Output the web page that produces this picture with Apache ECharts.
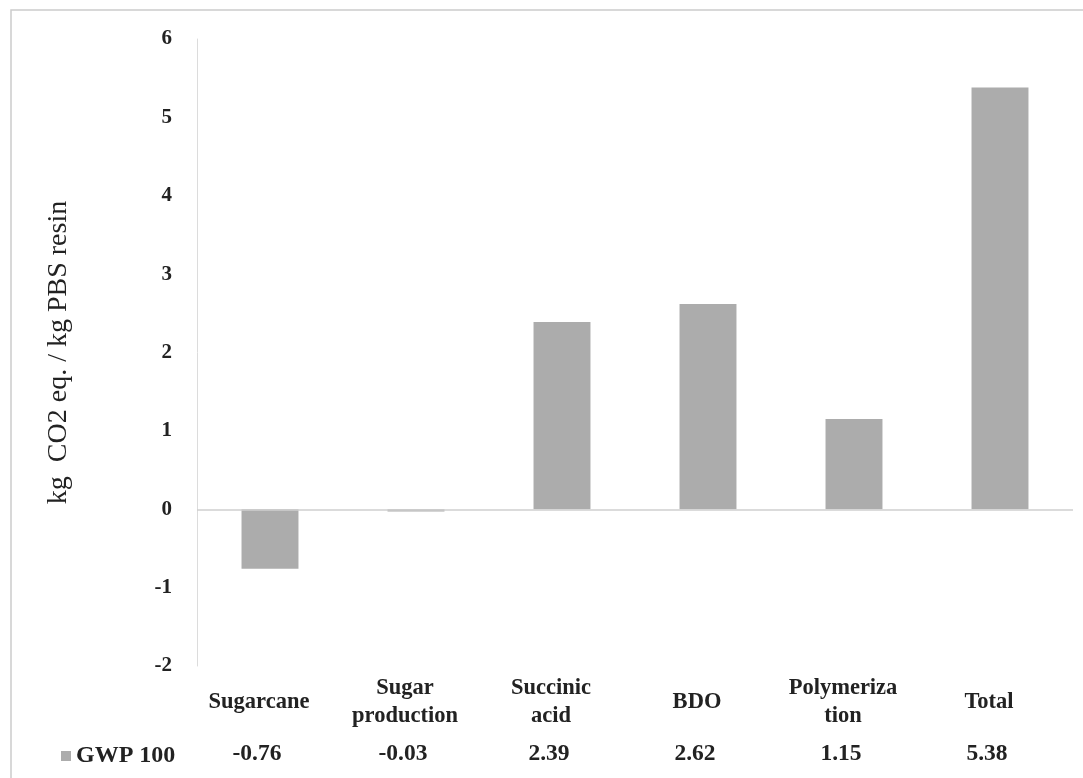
<!DOCTYPE html>
<html>
<head>
<meta charset="utf-8">
<script src="https://cdn.jsdelivr.net/npm/echarts@6/dist/echarts.min.js"></script>
<style>
  html, body { margin: 0; padding: 0; background: #ffffff; }
  #chart { width: 1083px; height: 778px; }
</style>
</head>
<body>
<div id="chart"></div>
<script>
var categories = ['Sugarcane', 'Sugar\nproduction', 'Succinic\nacid', 'BDO', 'Polymeriza\ntion', 'Total'];
var gwpValues = [-0.76, -0.03, 2.39, 2.62, 1.15, 5.38];
var seriesName = 'GWP 100';
var yAxisTitle = 'kg  CO2 eq. / kg PBS resin';
var yMin = -2, yMax = 6, yStep = 1;

var serif = '"Liberation Serif", "DejaVu Serif", serif';
var chart = echarts.init(document.getElementById('chart'), null, { renderer: 'canvas' });

chart.setOption({
  backgroundColor: '#ffffff',
  animation: false,
  graphic: [{
    type: 'rect',
    shape: { x: 11, y: 10, width: 1200, height: 900 },
    style: { fill: 'none', stroke: '#cccccc', lineWidth: 1.5 },
    silent: true
  }],
  legend: {
    data: [seriesName],
    left: 56,
    top: 739,
    icon: 'rect',
    itemWidth: 10,
    itemHeight: 10,
    itemGap: 6,
    textStyle: { fontFamily: serif, fontSize: 24, fontWeight: 'bold', color: '#222' }
  },
  grid: { left: 197, right: 10, top: 39, bottom: 112, containLabel: false },
  xAxis: [{
    type: 'category',
    data: categories,
    position: 'bottom',
    axisLine: { show: false },
    axisTick: { show: false },
    axisLabel: {
      interval: 0,
      margin: 36,
      verticalAlign: 'middle',
      lineHeight: 28,
      padding: [0, 22, 0, 0],
      fontFamily: serif,
      fontSize: 22.5,
      fontWeight: 'bold',
      color: '#222'
    }
  }, {
    type: 'category',
    data: gwpValues.map(function (v) { return v.toFixed(2); }),
    position: 'bottom',
    axisLine: { show: false },
    axisTick: { show: false },
    axisLabel: {
      interval: 0,
      margin: 88,
      verticalAlign: 'middle',
      padding: [0, 26, 0, 0],
      fontFamily: serif,
      fontSize: 23.5,
      fontWeight: 'bold',
      color: '#222'
    }
  }],
  yAxis: {
    type: 'value',
    min: yMin,
    max: yMax,
    interval: yStep,
    name: yAxisTitle,
    nameLocation: 'middle',
    nameGap: 124,
    nameRotate: 90,
    nameTextStyle: { fontFamily: serif, fontSize: 28, color: '#222' },
    axisLine: { show: true, lineStyle: { color: '#dcdcdc', width: 1 } },
    axisTick: { show: false },
    splitLine: { show: false },
    axisLabel: {
      margin: 25,
      padding: [4, 0, 0, 0],
      fontFamily: serif,
      fontSize: 21,
      fontWeight: 'bold',
      color: '#222'
    }
  },
  series: [{
    name: seriesName,
    type: 'bar',
    xAxisIndex: 0,
    data: gwpValues,
    barWidth: '39%',
    itemStyle: { color: '#acacac' },
    markLine: {
      silent: true,
      symbol: 'none',
      label: { show: false },
      lineStyle: { color: '#cfcfcf', type: 'solid', width: 1.5 },
      data: [{ yAxis: 0 }]
    }
  }]
});
</script>
</body>
</html>
